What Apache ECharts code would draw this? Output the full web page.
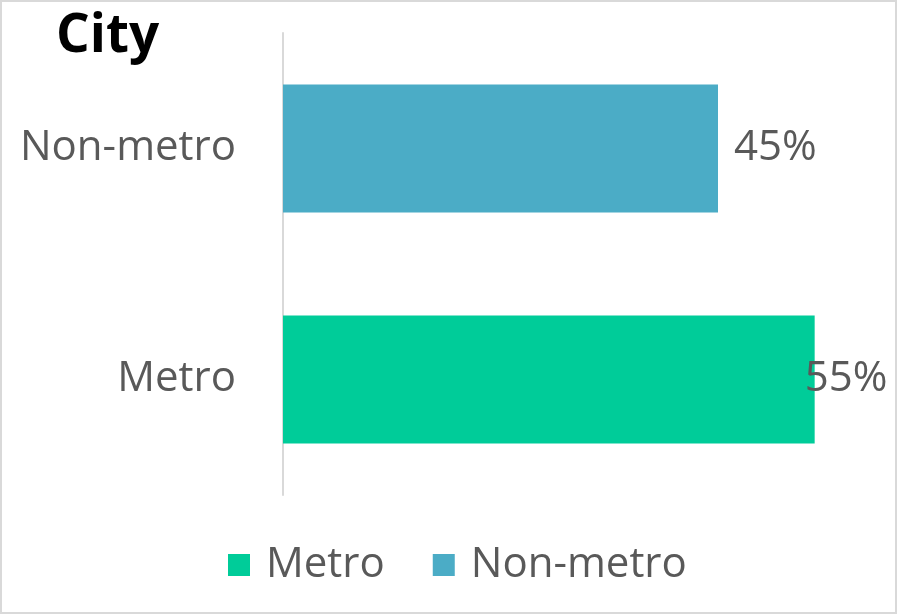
<!DOCTYPE html>
<html>
<head>
<meta charset="utf-8">
<script src="https://cdn.jsdelivr.net/npm/echarts@6/dist/echarts.min.js"></script>
<style>
  html, body { margin: 0; padding: 0; background: #fff; }
  #chart { width: 897px; height: 614px; box-sizing: border-box; border: 2px solid #d9d9d9; }
</style>
</head>
<body>
<div id="chart"></div>
<script>
// Share of respondents by city type
const categories = ['Metro', 'Non-metro'];
const seriesNames = ['Metro', 'Non-metro'];
const metroValues = [55, '-'];
const nonMetroValues = ['-', 45];
const colors = ['#00CC99', '#4BACC6'];

const chart = echarts.init(document.getElementById('chart'));
const font = 'Open Sans';

chart.setOption({
  animation: false,
  title: {
    text: 'City',
    left: 49,
    top: 3,
    textStyle: { fontFamily: font, fontWeight: 'bold', fontSize: 53, color: '#000' }
  },
  legend: {
    bottom: 21,
    left: 221,
    icon: 'rect',
    itemWidth: 22,
    itemHeight: 22,
    itemGap: 48,
    data: seriesNames,
    textStyle: { fontFamily: font, fontSize: 42, color: '#595959', padding: [0, 0, 0, 11] }
  },
  grid: { left: 281, right: 32, top: 31, bottom: 117, containLabel: false },
  xAxis: {
    type: 'value',
    min: 0,
    max: 60,
    show: false
  },
  yAxis: {
    type: 'category',
    data: categories,
    axisLine: { show: true, lineStyle: { color: '#d9d9d9', width: 2 } },
    axisTick: { show: false },
    axisLabel: { fontFamily: font, fontSize: 42, color: '#595959', margin: 47 }
  },
  series: [
    {
      name: seriesNames[0],
      type: 'bar',
      stack: 'city',
      data: metroValues,
      barCategoryGap: '44.5%',
      itemStyle: { color: colors[0] },
      label: {
        show: true,
        position: 'right',
        distance: -10,
        formatter: '{c}%',
        fontFamily: font,
        fontSize: 42,
        color: '#595959'
      }
    },
    {
      name: seriesNames[1],
      type: 'bar',
      stack: 'city',
      data: nonMetroValues,
      barCategoryGap: '44.5%',
      itemStyle: { color: colors[1] },
      label: {
        show: true,
        position: 'right',
        distance: 16,
        formatter: '{c}%',
        fontFamily: font,
        fontSize: 42,
        color: '#595959'
      }
    }
  ]
});
</script>
</body>
</html>
